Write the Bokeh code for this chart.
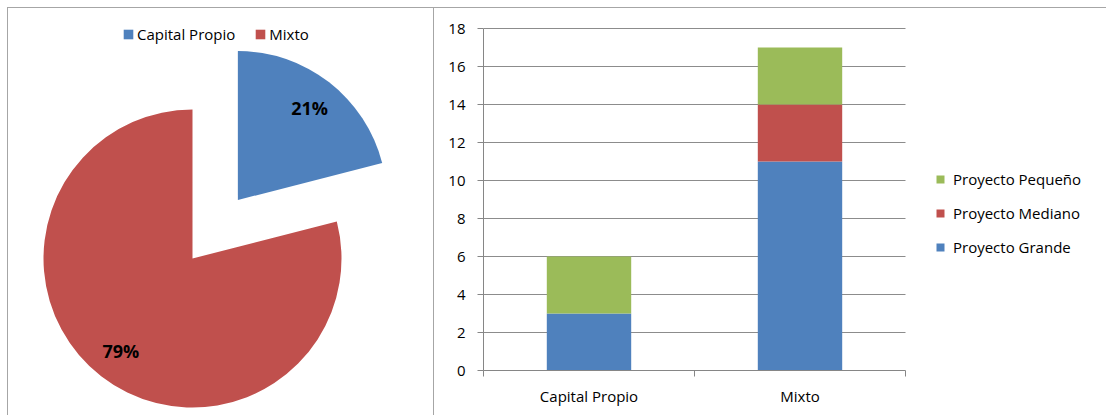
import numpy as np
from bokeh.plotting import figure
from bokeh.layouts import row
from bokeh.models import (ColumnDataSource, Range1d, Legend, LegendItem, FixedTicker)
from bokeh.core.properties import value
from bokeh.embed import file_html
from bokeh.resources import INLINE

# ---------------- data ----------------
pie_labels = ["Capital Propio", "Mixto"]
pie_values = [21, 79]
pie_colors = ["#4F81BD", "#C0504D"]

categories = ["Capital Propio", "Mixto"]
series = ["Proyecto Grande", "Proyecto Mediano", "Proyecto Pequeño"]
grande = [3, 11]
mediano = [0, 3]
pequeno = [3, 3]
bar_colors = ["#4F81BD", "#C0504D", "#9BBB59"]
y_ticks = [0, 2, 4, 6, 8, 10, 12, 14, 16, 18]

FONT = "Open Sans"
FS = "15px"
BORDER = "#a6a6a6"
AXIS = "#868686"

# ---------------- pie ----------------
p1 = figure(width=434, height=415, output_backend="svg", toolbar_location=None,
            x_range=Range1d(-185, 242), y_range=Range1d(-157, 251),
            min_border_left=7, min_border_top=7, min_border_right=0, min_border_bottom=0)
p1.axis.visible = False
p1.grid.visible = False
p1.outline_line_color = None
p1.border_fill_alpha = 0
p1.background_fill_alpha = 0

total = float(sum(pie_values))
vals = np.array(pie_values, dtype=float)
cum_after = np.cumsum(vals)
cum_before = cum_after - vals
end_ang = np.deg2rad(90 - cum_before * 360 / total)
start_ang = np.deg2rad(90 - cum_after * 360 / total)
mid = (start_ang + end_ang) / 2
explode = np.array([74, 0])
R = 149
cx = explode * np.cos(mid)
cy = explode * np.sin(mid)

src = ColumnDataSource(dict(x=cx, y=cy, start=start_ang, end=end_ang, color=pie_colors,
                            lx=cx + 0.785 * R * np.cos(mid), ly=cy + 0.785 * R * np.sin(mid),
                            txt=[f"{v}%" for v in pie_values]))
wr = p1.wedge(x="x", y="y", radius=R, start_angle="start", end_angle="end",
              fill_color="color", line_color=None, source=src)
p1.text(x="lx", y="ly", text="txt", source=src, text_align="center", text_baseline="middle",
        text_font=value(FONT), text_font_style="bold", text_font_size="18px", text_color="#000000")

leg1 = Legend(items=[LegendItem(label=lab, renderers=[wr], index=i) for i, lab in enumerate(pie_labels)],
              orientation="horizontal", location=(115, 371), padding=0, margin=0, spacing=19,
              glyph_width=12, glyph_height=12, label_height=16, label_standoff=3,
              label_text_font=FONT, label_text_font_size=FS, label_text_color="#000000",
              border_line_color=None, background_fill_alpha=0)
p1.add_layout(leg1, "center")

# ---------------- stacked bars ----------------
n = len(categories)
frame_left, frame_right_axis, canvas_right = 483, 905, 1106
px_per_unit = 342 / 18.0
y_top = 18 + 21 / px_per_unit
x_end = n * (canvas_right - frame_left) / (frame_right_axis - frame_left)
p2 = figure(width=672, height=415, output_backend="svg", toolbar_location=None,
            x_range=Range1d(0, x_end), y_range=Range1d(0, y_top),
            min_border_left=49, min_border_top=7, min_border_right=0, min_border_bottom=45)
p2.outline_line_color = None
p2.border_fill_alpha = 0
p2.background_fill_alpha = 0
xs = np.arange(n) + 0.5
bsrc = ColumnDataSource(dict(x=xs, **{series[0]: grande, series[1]: mediano, series[2]: pequeno}))

for p in (p1, p2):
    if "frame_align" in p.properties():
        p.frame_align = False

p2.xgrid.visible = False
if "cross_bounds" in p2.ygrid.properties():
    p2.ygrid.ticker = FixedTicker(ticks=y_ticks)
    p2.ygrid.cross_bounds = (0, n)
    p2.ygrid.grid_line_color = "#8c8c8c"
else:
    p2.ygrid.visible = False
    p2.multi_line(xs=[[0, n] for _ in y_ticks], ys=[[t, t] for t in y_ticks],
                  line_color="#8c8c8c", line_width=1)

rs = p2.vbar_stack(series, x="x", width=0.4, color=bar_colors, line_color=None, source=bsrc)

p2.yaxis.ticker = FixedTicker(ticks=y_ticks)
p2.yaxis.bounds = (0, 18)
p2.yaxis.major_tick_out = 6
p2.yaxis.major_tick_in = 0
p2.yaxis.minor_tick_line_color = None
p2.yaxis.major_label_standoff = 12

p2.xaxis.ticker = FixedTicker(ticks=list(xs), minor_ticks=list(range(n + 1)))
p2.xaxis.bounds = (0, n)
p2.xaxis.major_label_overrides = {float(x): c for x, c in zip(xs, categories)}
p2.xaxis.major_tick_out = 0
p2.xaxis.major_tick_in = 0
p2.xaxis.minor_tick_out = 6
p2.xaxis.minor_tick_in = 0
p2.xaxis.major_label_standoff = 9

for ax in (p2.xaxis, p2.yaxis):
    ax.axis_line_color = AXIS
    ax.major_tick_line_color = AXIS
    ax.major_label_text_font = FONT
    ax.major_label_text_font_size = FS
    ax.major_label_text_color = "#000000"
p2.xaxis.minor_tick_line_color = AXIS

items = [LegendItem(label=s, renderers=[r]) for s, r in zip(series, rs)][::-1]
leg2 = Legend(items=items, location=(935 - frame_left, 113), padding=0, margin=0, spacing=14,
              glyph_width=10, glyph_height=10, label_height=20, label_standoff=8,
              label_text_font=FONT, label_text_font_size=FS, label_text_color="#000000",
              border_line_color=None, background_fill_alpha=0)
p2.add_layout(leg2, "center")

g = "linear-gradient(#a6a6a6, #a6a6a6)"
layout = row(p1, p2, styles={
    "background-color": "white",
    "background-image": f"{g}, {g}, {g}",
    "background-size": "calc(100% - 7px) 1px, 1px 100%, 1px 100%",
    "background-position": "7px 7px, 7px 7px, 433px 7px",
    "background-repeat": "no-repeat",
})
open("out.html", "w").write(file_html(layout, INLINE))
